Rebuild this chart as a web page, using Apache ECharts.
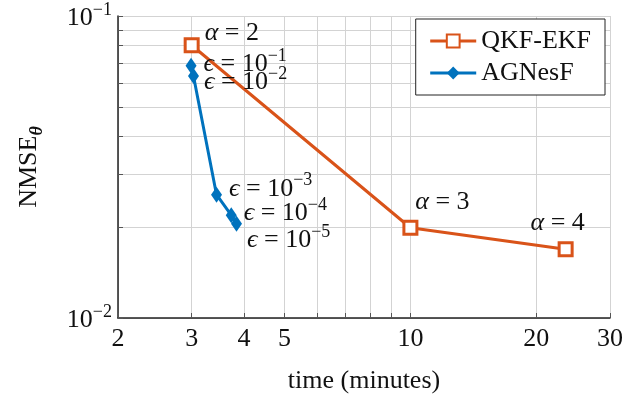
<!DOCTYPE html>
<html>
<head>
<meta charset="utf-8">
<script src="https://cdn.jsdelivr.net/npm/echarts@6/dist/echarts.min.js"></script>
<style>
  html, body { margin: 0; padding: 0; background: #fff; }
  #main { width: 642px; height: 394px; }
</style>
</head>
<body>
<div id="main"></div>
<script>
// time (minutes) and NMSE values
const qkfTime = [3, 10, 23.5];
const qkfNmse = [0.08, 0.0199, 0.0169];
const qkfAlpha = [2, 3, 4];

const agTime = [2.99, 3.03, 3.44, 3.73, 3.84];
const agNmse = [0.0684, 0.0633, 0.0256, 0.0219, 0.0205];
const agEpsExp = [-1, -2, -3, -4, -5];

const xTicks = [2, 3, 4, 5, 6, 7, 8, 9, 10, 20, 30];
const xLabels = [2, 3, 4, 5, 10, 20, 30];
const yTicks = [0.01, 0.02, 0.03, 0.04, 0.05, 0.06, 0.07, 0.08, 0.09, 0.1];
const yLabelExp = [-2, -1];

const FONT = '"Liberation Serif", "DejaVu Serif", serif';
const ORANGE = '#D95319';
const BLUE = '#0072BD';

const lg = Math.log10;

const supRich = {
  b: { fontFamily: FONT, fontSize: 26, color: '#111', lineHeight: 30, verticalAlign: 'bottom' },
  m: { fontFamily: FONT, fontSize: 26, fontStyle: 'italic', color: '#111', lineHeight: 30, verticalAlign: 'bottom' },
  s: { fontFamily: FONT, fontSize: 18, color: '#111', lineHeight: 18, verticalAlign: 'top' }
};

// label placement per point (position, offset)
const qkfPlace = [
  { position: 'right', offset: [0, -14] },
  { position: 'top', offset: [32, 0] },
  { position: 'top', offset: [-8, 0] }
];
const agPlace = [
  { position: 'right', offset: [2, -4] },
  { position: 'right', offset: [0, 4] },
  { position: 'right', offset: [2, -8] },
  { position: 'right', offset: [2, -4] },
  { position: 'right', offset: [0, 14] }
];

const dom = document.getElementById('main');
const myChart = echarts.init(dom);

const option = {
  backgroundColor: '#fff',
  animation: false,
  grid: { left: 118, right: 32, top: 16, bottom: 76, containLabel: false, outerBoundsMode: 'none' },
  legend: {
    right: 37,
    top: 19,
    orient: 'vertical',
    backgroundColor: '#fff',
    borderColor: '#222',
    borderWidth: 1,
    borderRadius: 0,
    padding: [9, 14, 9, 13],
    itemWidth: 46,
    itemHeight: 16,
    itemGap: 6,
    lineStyle: { width: 3 },
    textStyle: { fontFamily: FONT, fontSize: 26, color: '#111' },
    data: ['QKF-EKF', 'AGNesF']
  },
  xAxis: {
    type: 'value',
    min: lg(2),
    max: lg(30),
    name: 'time (minutes)',
    nameLocation: 'middle',
    nameGap: 50,
    nameTextStyle: { fontFamily: FONT, fontSize: 26, color: '#111' },
    axisLine: { show: true, onZero: false, lineStyle: { color: '#222', width: 1.5 } },
    axisTick: { show: true, inside: true, length: 5, customValues: xTicks.map(lg), lineStyle: { color: '#555' } },
    axisLabel: {
      customValues: xLabels.map(lg),
      margin: 8,
      fontFamily: FONT, fontSize: 26, color: '#111',
      formatter: v => String(Math.round(Math.pow(10, v)))
    },
    splitLine: { show: true, lineStyle: { color: '#d3d3d3', width: 1 } }
  },
  yAxis: {
    type: 'value',
    min: -2,
    max: -1,
    name: '{n|NMSE}{t|θ}',
    nameLocation: 'middle',
    nameGap: 72,
    nameRotate: 90,
    nameTextStyle: {
      rich: {
        n: { fontFamily: FONT, fontSize: 26, color: '#111', lineHeight: 30, verticalAlign: 'top' },
        t: { fontFamily: FONT, fontSize: 18, fontStyle: 'italic', fontWeight: 'bold', color: '#111', lineHeight: 16, verticalAlign: 'bottom' }
      }
    },
    axisLine: { show: true, onZero: false, lineStyle: { color: '#222', width: 1.5 } },
    axisTick: { show: true, inside: true, length: 5, customValues: yTicks.map(lg), lineStyle: { color: '#555' } },
    axisLabel: {
      customValues: yLabelExp,
      margin: 6,
      formatter: v => '{b|10}{s|−' + Math.round(-v) + '}',
      rich: supRich
    },
    splitLine: { show: true, lineStyle: { color: '#d3d3d3', width: 1 } }
  },
  series: [
    {
      name: 'QKF-EKF',
      type: 'line',
      z: 3,
      data: qkfTime.map((t, i) => ({
        value: [lg(t), lg(qkfNmse[i])],
        label: Object.assign({
          show: true,
          formatter: '{m|α}{b| = ' + qkfAlpha[i] + '}',
          rich: supRich
        }, qkfPlace[i])
      })),
      symbol: 'rect',
      symbolSize: 13,
      lineStyle: { color: ORANGE, width: 3 },
      itemStyle: { color: '#fff', borderColor: ORANGE, borderWidth: 3 }
    },
    {
      name: 'AGNesF',
      type: 'line',
      z: 4,
      data: agTime.map((t, i) => ({
        value: [lg(t), lg(agNmse[i])],
        label: Object.assign({
          show: true,
          formatter: '{m|ϵ}{b| = 10}{s|−' + (-agEpsExp[i]) + '}',
          rich: supRich
        }, agPlace[i])
      })),
      symbol: 'diamond',
      symbolSize: [11, 16],
      lineStyle: { color: BLUE, width: 3 },
      itemStyle: { color: BLUE, borderColor: BLUE, borderWidth: 0 }
    }
  ]
};

myChart.setOption(option, true);
</script>
</body>
</html>
